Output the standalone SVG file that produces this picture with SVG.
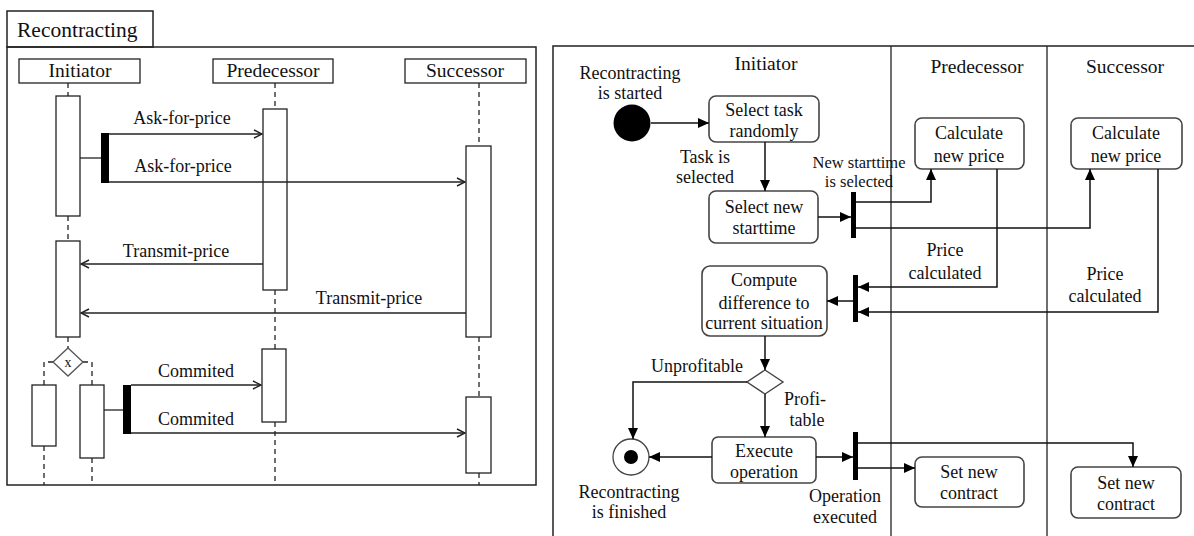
<svg xmlns="http://www.w3.org/2000/svg" width="1194" height="536" viewBox="0 0 1194 536">
<style>
text{font-family:"Liberation Serif","DejaVu Serif","Noto Serif",Times,serif;font-size:18px;fill:#111;text-anchor:middle}
.hdr{font-size:19.5px}
.title{font-size:21.5px;text-anchor:start}
.sm{font-size:16.5px}
.frame{fill:none;stroke:#222;stroke-width:1.5}
.box{fill:#fff;stroke:#222;stroke-width:1.3}
.life{fill:none;stroke:#222;stroke-width:1.3;stroke-dasharray:5,4}
.msg{fill:none;stroke:#222;stroke-width:1.3;marker-end:url(#open)}
.ln{fill:none;stroke:#222;stroke-width:1.3}
.flow{fill:none;stroke:#111;stroke-width:1.5;marker-end:url(#tri)}
.act{fill:#fff;stroke:#444;stroke-width:1.6}
.bar{fill:#000}
</style>
<defs>
<marker id="open" markerWidth="10" markerHeight="10" refX="9" refY="5" orient="auto" markerUnits="userSpaceOnUse"><path d="M1,1 L9,5 L1,9" fill="none" stroke="#222" stroke-width="1.4"/></marker>
<marker id="tri" markerWidth="12" markerHeight="12" refX="11" refY="5.5" orient="auto" markerUnits="userSpaceOnUse"><path d="M0,0.5 L11,5.5 L0,10.5 z" fill="#000"/></marker>
</defs>
<g font-family="Liberation Serif, DejaVu Serif, serif">
<!-- ===== Sequence diagram ===== -->
<g id="seq-frame">
<rect class="frame" x="7" y="11" width="146" height="36"/>
<text class="title" x="17" y="37">Recontracting</text>
<rect class="frame" x="7" y="47" width="529" height="438"/>
</g>
<g id="seq-initiator">
<rect class="box" x="19" y="59" width="121" height="24"/>
<text class="hdr" x="80" y="77">Initiator</text>
<path class="life" d="M68,83 V96 M68,216 V241 M68,337 V348 M53,362 H44 V385 M83,362 H92 V385 M44,446 V485 M92,458 V485"/>
<rect class="box" x="56" y="96" width="24" height="120"/>
<rect class="box" x="56" y="241" width="24" height="96"/>
<rect class="box" x="32" y="385" width="24" height="61"/>
<rect class="box" x="80" y="385" width="24" height="73"/>
<polygon points="68,348 83,362 68,376 53,362" fill="#fff" stroke="#555" stroke-width="1.3"/>
<text x="68" y="367" style="font-size:14px">x</text>
</g>
<g id="seq-predecessor">
<rect class="box" x="213" y="59" width="120" height="24"/>
<text class="hdr" x="273" y="77">Predecessor</text>
<path class="life" d="M275,83 V109 M275,290 V349 M275,422 V485"/>
<rect class="box" x="263" y="109" width="24" height="181"/>
<rect class="box" x="262" y="349" width="24" height="73"/>
</g>
<g id="seq-successor">
<rect class="box" x="405" y="59" width="121" height="24"/>
<text class="hdr" x="465" y="77">Successor</text>
<path class="life" d="M479,83 V146 M479,337 V397 M479,473 V485"/>
<rect class="box" x="466" y="146" width="25" height="191"/>
<rect class="box" x="466" y="397" width="25" height="76"/>
</g>
<g id="seq-messages">
<rect class="bar" x="101" y="133" width="8" height="50"/>
<path class="ln" d="M80,158 H101"/>
<path class="msg" d="M109,134 H262"/>
<text x="182" y="124">Ask-for-price</text>
<path class="msg" d="M109,182 H465"/>
<text x="183" y="172">Ask-for-price</text>
<path class="msg" d="M263,264 H81"/>
<text x="176" y="257">Transmit-price</text>
<path class="msg" d="M466,313 H81"/>
<text x="369" y="304">Transmit-price</text>
<rect class="bar" x="123" y="385" width="8" height="49"/>
<path class="ln" d="M104,410 H123"/>
<path class="msg" d="M131,385 H261"/>
<text x="196" y="377">Commited</text>
<path class="msg" d="M131,433 H465"/>
<text x="196" y="425">Commited</text>
</g>

<!-- ===== Activity diagram ===== -->
<g id="act-frame">
<path class="frame" d="M553,536 V46 H1194"/>
<path class="ln" d="M891,46 V536 M1047,46 V536"/>
<text class="hdr" x="766" y="70">Initiator</text>
<text class="hdr" x="977" y="73">Predecessor</text>
<text class="hdr" x="1125" y="73">Successor</text>
</g>
<g id="start">
<circle cx="632" cy="123" r="18.5" fill="#000"/>
<text x="630" y="79">Recontracting</text>
<text x="630" y="99">is started</text>
</g>
<g id="select-task">
<rect class="act" x="709" y="96" width="110" height="46" rx="7"/>
<text x="764" y="116">Select task</text>
<text x="764" y="137">randomly</text>
</g>
<g id="select-starttime">
<rect class="act" x="709" y="191" width="109" height="52" rx="7"/>
<text x="764" y="213">Select new</text>
<text x="764" y="234">starttime</text>
</g>
<g id="fork1"><rect class="bar" x="851" y="192" width="5" height="46"/></g>
<g id="calc-pred">
<rect class="act" x="915" y="118" width="109" height="51" rx="7"/>
<text x="969" y="139">Calculate</text>
<text x="969" y="162">new price</text>
</g>
<g id="calc-succ">
<rect class="act" x="1071" y="118" width="111" height="51" rx="7"/>
<text x="1126" y="139">Calculate</text>
<text x="1126" y="162">new price</text>
</g>
<g id="join1"><rect class="bar" x="853" y="275" width="5" height="47"/></g>
<g id="compute">
<rect class="act" x="702" y="266" width="125" height="70" rx="8"/>
<text x="764" y="286">Compute</text>
<text x="764" y="309">difference to</text>
<text x="764" y="329">current situation</text>
</g>
<g id="decision">
<polygon points="765,370 783,382 765,394 747,382" fill="#fff" stroke="#444" stroke-width="1.4"/>
</g>
<g id="execute">
<rect class="act" x="712" y="437" width="104" height="46" rx="6"/>
<text x="764" y="457">Execute</text>
<text x="764" y="478">operation</text>
</g>
<g id="fork2"><rect class="bar" x="853" y="432" width="5" height="48"/></g>
<g id="end">
<circle cx="631" cy="457" r="18" fill="#fff" stroke="#444" stroke-width="1.3"/>
<circle cx="631" cy="457" r="7" fill="#000"/>
<text x="629" y="498">Recontracting</text>
<text x="629" y="518">is finished</text>
</g>
<g id="set-pred">
<rect class="act" x="915" y="457" width="109" height="50" rx="7"/>
<text x="969" y="478">Set new</text>
<text x="969" y="499">contract</text>
</g>
<g id="set-succ">
<rect class="act" x="1071" y="467" width="110" height="51" rx="7"/>
<text x="1126" y="489">Set new</text>
<text x="1126" y="510">contract</text>
</g>
<g id="act-connectors">
<path class="flow" d="M651,123 H709"/>
<path class="flow" d="M765,142 V191"/>
<text x="705" y="163">Task is</text>
<text x="705" y="183">selected</text>
<path class="flow" d="M818,217 H851"/>
<text class="sm" x="859" y="168">New starttime</text>
<text class="sm" x="859" y="187">is selected</text>
<path class="flow" d="M856,202 H931 V169"/>
<path class="flow" d="M856,228 H1090 V169"/>
<path class="flow" d="M997,169 V287 H858"/>
<path class="flow" d="M1158,169 V312 H858"/>
<text x="945" y="256">Price</text>
<text x="945" y="279">calculated</text>
<text x="1105" y="280">Price</text>
<text x="1105" y="302">calculated</text>
<path class="flow" d="M853,301 H827"/>
<path class="flow" d="M765,336 V370"/>
<path class="flow" d="M747,382 H633 V439"/>
<text x="697" y="372">Unprofitable</text>
<path class="flow" d="M765,394 V437"/>
<text x="805" y="405">Profi-</text>
<text x="807" y="426">table</text>
<path class="flow" d="M712,457 H649"/>
<path class="flow" d="M816,457 H853"/>
<text x="845" y="502">Operation</text>
<text x="845" y="523">executed</text>
<path class="flow" d="M858,443 H1133 V467"/>
<path class="flow" d="M858,468 H915"/>
</g>
</g>
</svg>
